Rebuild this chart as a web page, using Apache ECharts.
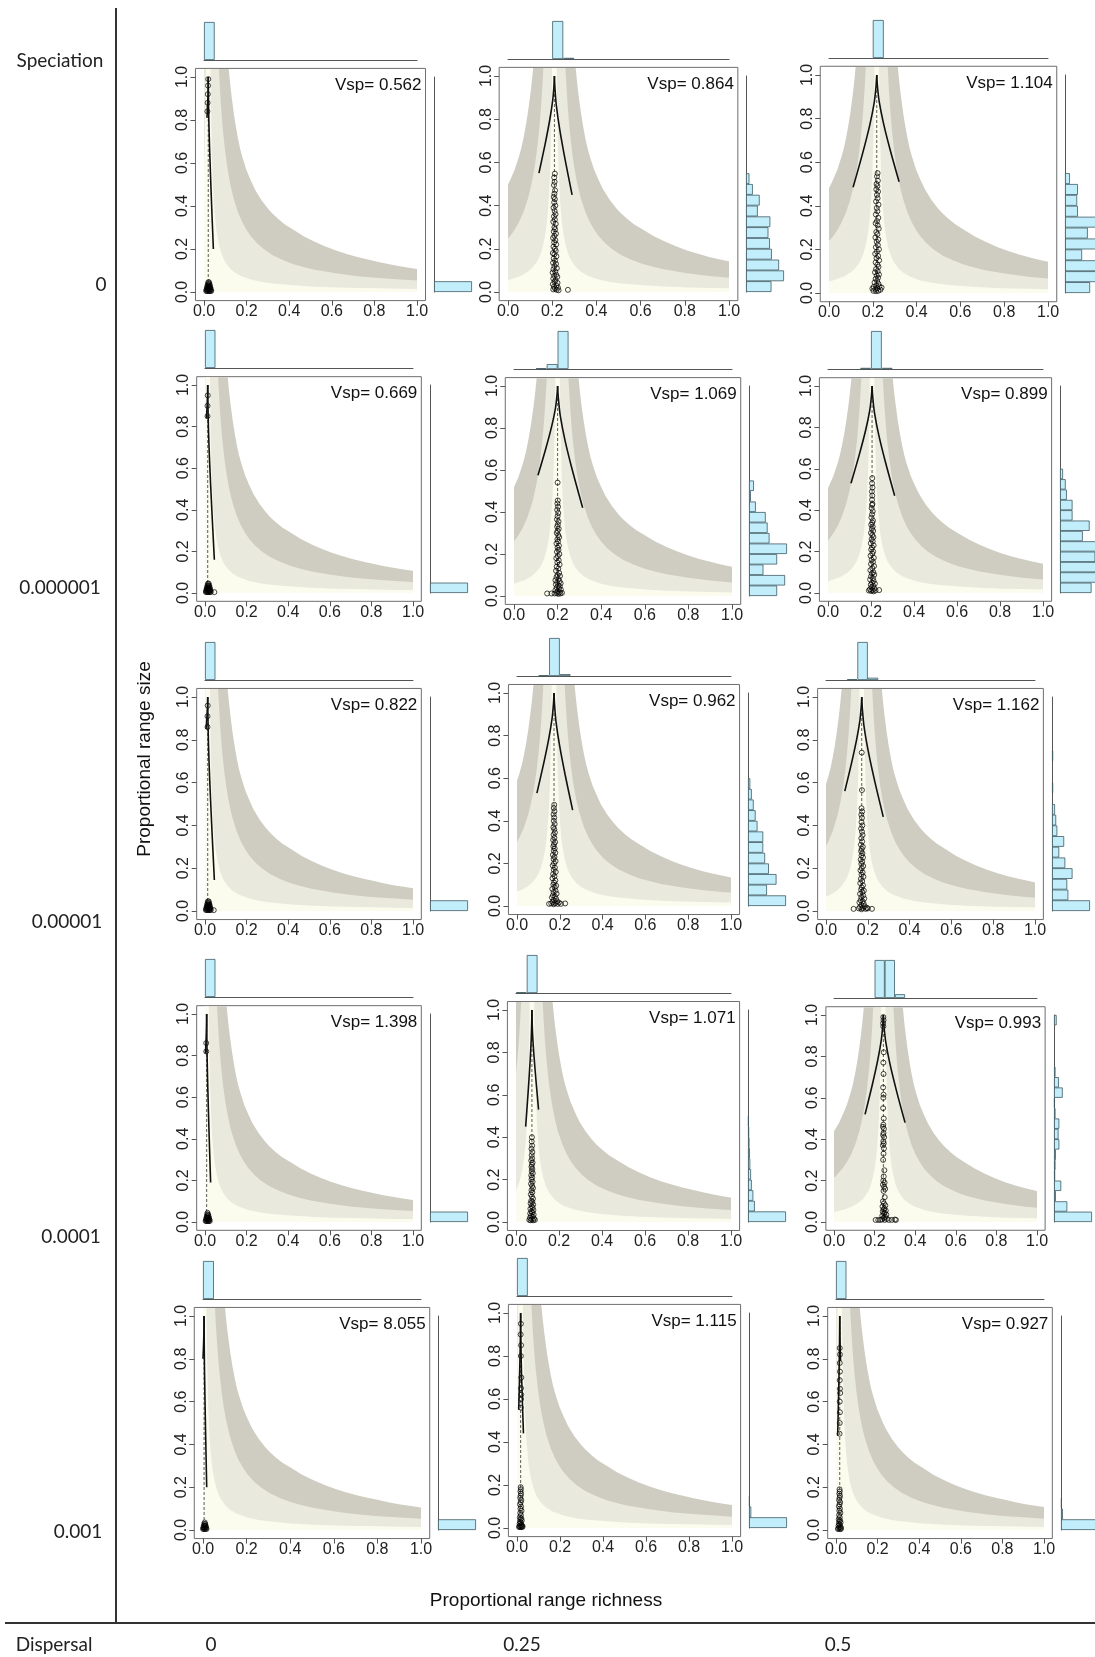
<!DOCTYPE html>
<html>
<head>
<meta charset="utf-8">
<script src="https://cdn.jsdelivr.net/npm/echarts@6/dist/echarts.min.js"></script>
<style>
  html, body { margin: 0; padding: 0; background: #ffffff; }
  #chart { width: 1095px; height: 1657px; }
</style>
</head>
<body>
<div id="chart"></div>
<script>
// ---- Factor levels ------------------------------------------------------
const dispersalLevels = ['0', '0.25', '0.5'];
const speciationLevels = ['0', '0.000001', '0.00001', '0.0001', '0.001'];
const axisTicks = [0, 0.2, 0.4, 0.6, 0.8, 1.0];

// ---- Per-panel values (row-major: speciation rows x dispersal columns) ---
const vsp = [0.562, 0.864, 1.104, 0.669, 1.069, 0.899, 0.822, 0.962, 1.162, 1.398, 1.071, 0.993, 8.055, 1.115, 0.927];
const meanRichness = [0.02, 0.21, 0.218, 0.013, 0.2, 0.205, 0.013, 0.173, 0.171, 0.008, 0.074, 0.243, 0.005, 0.017, 0.018];

// Envelope boundaries: [distance from mean richness, proportional range size]
const envelopeOuter = [[0.08,1.25],[0.085,1.176],[0.09,1.111],[0.095,1.053],[0.1,1.0],[0.105,0.952],[0.11,0.909],[0.12,0.833],[0.13,0.769],[0.14,0.714],[0.15,0.667],[0.16,0.63],[0.18,0.567],[0.2,0.52],[0.22,0.477],[0.25,0.428],[0.28,0.389],[0.3,0.367],[0.33,0.339],[0.36,0.315],[0.4,0.29],[0.45,0.259],[0.5,0.234],[0.55,0.212],[0.6,0.193],[0.65,0.177],[0.7,0.163],[0.75,0.151],[0.8,0.14],[0.85,0.129],[0.9,0.12],[0.95,0.112],[1.0,0.105]];
const envelopeMiddle = [[0.04,1.3],[0.045,1.156],[0.05,1.04],[0.055,0.945],[0.06,0.867],[0.065,0.8],[0.07,0.743],[0.08,0.65],[0.09,0.578],[0.1,0.52],[0.11,0.473],[0.12,0.433],[0.14,0.371],[0.16,0.325],[0.18,0.289],[0.2,0.26],[0.23,0.226],[0.26,0.2],[0.3,0.173],[0.35,0.149],[0.4,0.13],[0.45,0.116],[0.5,0.104],[0.6,0.087],[0.7,0.074],[0.8,0.065],[0.9,0.058],[1.0,0.052]];
const envelopeInner = [[0.007,1.57],[0.008,1.375],[0.009,1.22],[0.01,1.1],[0.011,1.0],[0.012,0.917],[0.014,0.786],[0.016,0.688],[0.018,0.611],[0.02,0.55],[0.023,0.478],[0.026,0.423],[0.03,0.367],[0.035,0.314],[0.04,0.275],[0.05,0.22],[0.06,0.184],[0.07,0.158],[0.08,0.139],[0.1,0.112],[0.12,0.094],[0.15,0.076],[0.2,0.058],[0.25,0.047],[0.3,0.04],[0.4,0.031],[0.5,0.025],[0.6,0.021],[0.7,0.019],[0.8,0.017],[0.9,0.015],[1.0,0.014]];

// Expected curve, two branches from the peak at range size 1
const curveLeft = [
  [[0.014,0.81],[0.016,0.86],[0.019,0.92],[0.0198,0.97],[0.02,1.0]],
  [[0.14,0.55],[0.168,0.685],[0.189,0.7975],[0.2023,0.8875],[0.208,0.955],[0.21,1.0]],
  [[0.11,0.485],[0.1532,0.6395],[0.1856,0.768],[0.2061,0.871],[0.2148,0.948],[0.218,1.0]],
  [[0.007,0.84],[0.009,0.88],[0.011,0.92],[0.0127,0.97],[0.013,1.0]],
  [[0.11,0.575],[0.146,0.7025],[0.173,0.809],[0.1901,0.894],[0.1973,0.9575],[0.2,1.0]],
  [[0.107,0.53],[0.1462,0.671],[0.1756,0.7885],[0.1942,0.8825],[0.2021,0.953],[0.205,1.0]],
  [[0.005,0.85],[0.008,0.89],[0.0105,0.93],[0.0125,0.97],[0.013,1.0]],
  [[0.093,0.53],[0.125,0.671],[0.149,0.7885],[0.1642,0.8825],[0.1706,0.953],[0.173,1.0]],
  [[0.09,0.56],[0.1224,0.692],[0.1467,0.802],[0.1621,0.89],[0.1686,0.956],[0.171,1.0]],
  [[0.002,0.81],[0.004,0.85],[0.006,0.9],[0.0077,0.96],[0.008,1.0]],
  [[0.045,0.45],[0.0566,0.615],[0.0653,0.7525],[0.0708,0.8625],[0.0731,0.945],[0.074,1.0]],
  [[0.153,0.52],[0.189,0.664],[0.216,0.784],[0.2331,0.88],[0.2403,0.952],[0.243,1.0]],
  [[0.0,0.8],[0.003,0.88],[0.0045,0.95],[0.005,1.0]],
  [[0.008,0.55],[0.013,0.75],[0.016,0.9],[0.017,1.0]],
  [[0.008,0.44],[0.014,0.7],[0.017,0.88],[0.018,1.0]]
];
const curveRight = [
  [[0.02,1.0],[0.0207,0.92],[0.0226,0.8],[0.0272,0.64],[0.0344,0.44],[0.044,0.2]],
  [[0.21,1.0],[0.2124,0.945],[0.2188,0.8625],[0.234,0.7525],[0.258,0.615],[0.29,0.45]],
  [[0.218,1.0],[0.2211,0.951],[0.2292,0.8775],[0.2486,0.7795],[0.2792,0.657],[0.32,0.51]],
  [[0.013,1.0],[0.014,0.916],[0.0165,0.79],[0.0226,0.622],[0.0322,0.412],[0.045,0.16]],
  [[0.2,1.0],[0.2035,0.942],[0.2127,0.855],[0.2345,0.739],[0.269,0.594],[0.315,0.42]],
  [[0.205,1.0],[0.2082,0.947],[0.2166,0.8675],[0.2365,0.7615],[0.268,0.629],[0.31,0.47]],
  [[0.013,1.0],[0.014,0.9145],[0.0165,0.786],[0.0226,0.615],[0.0322,0.4015],[0.045,0.145]],
  [[0.173,1.0],[0.1756,0.945],[0.1826,0.8625],[0.1991,0.7525],[0.2252,0.615],[0.26,0.45]],
  [[0.171,1.0],[0.1741,0.944],[0.1823,0.86],[0.2019,0.748],[0.2328,0.608],[0.274,0.44]],
  [[0.008,1.0],[0.0086,0.919],[0.0101,0.7975],[0.0137,0.6355],[0.0194,0.433],[0.027,0.19]],
  [[0.074,1.0],[0.0749,0.953],[0.0774,0.8825],[0.0833,0.7885],[0.0926,0.671],[0.105,0.53]],
  [[0.243,1.0],[0.2462,0.948],[0.2548,0.87],[0.2751,0.766],[0.3072,0.636],[0.35,0.48]],
  [[0.005,1.0],[0.0054,0.92],[0.0063,0.8],[0.0086,0.64],[0.0122,0.44],[0.017,0.2]],
  [[0.017,1.0],[0.0175,0.9],[0.021,0.72],[0.03,0.44]],
  [[0.018,1.0],[0.019,0.9],[0.022,0.79]]
];

// Histograms of richness and of range size (bins of 0.05 from 0), relative counts
const richnessCounts = [
  [1], [0,0,0,0,1,0.03], [0,0,0,0,1],
  [1], [0,0,0.02,0.13,1], [0,0,0,0.03,1,0.03],
  [1], [0,0,0.02,1,0.05], [0,0,0.02,1,0.06],
  [1], [0.02,1], [0,0,0,0,1,1,0.1],
  [1], [1], [1]
];
const rangeSizeCounts = [
  [1], [0.67,1.0,0.87,0.68,0.63,0.59,0.64,0.31,0.36,0.18,0.09], [0.66,0.9,0.95,0.45,1.0,0.6,0.85,0.34,0.32,0.34,0.13],
  [1], [0.74,0.95,0.38,0.74,1.0,0.54,0.49,0.44,0.18,0.05,0.13], [0.83,0.95,1.0,0.93,0.98,0.6,0.78,0.33,0.33,0.18,0.15,0.08],
  [1], [1.0,0.5,0.75,0.55,0.45,0.4,0.4,0.25,0.2,0.15,0.1,0.06], [1.0,0.43,0.4,0.54,0.35,0.19,0.32,0.14,0.11,0.08,0,0.03,0,0,0.03],
  [1], [1.0,0.18,0.14,0.1,0.08,0.06,0.05,0.04,0.03,0.02], [1.0,0.35,0.05,0.19,0.03,0.04,0.05,0.14,0.12,0.14,0.04,0.02,0.23,0.13,0.04,0,0,0,0,0.07],
  [1], [1.0,0.06,0.02], [1.0,0.05,0.02]
];

// Species: [proportional range richness, proportional range size]
const pointsR1C1 = [[0.016,0.84],[0.017,0.88],[0.018,0.92],[0.019,0.96],[0.02,0.99],[0.01,0.005],[0.014,0.005],[0.018,0.005],[0.022,0.005],[0.026,0.005],[0.03,0.005],[0.034,0.005],[0.012,0.012],[0.016,0.012],[0.02,0.012],[0.024,0.012],[0.028,0.012],[0.032,0.012],[0.014,0.02],[0.018,0.02],[0.022,0.02],[0.026,0.02],[0.03,0.02],[0.016,0.028],[0.02,0.028],[0.024,0.028],[0.028,0.028],[0.018,0.036],[0.022,0.036],[0.026,0.036],[0.02,0.045],[0.024,0.045]];
const pointsR1C2 = [[0.212,0.548],[0.209,0.53],[0.211,0.51],[0.208,0.495],[0.213,0.47],[0.21,0.455],[0.207,0.44],[0.212,0.43],[0.209,0.415],[0.214,0.4],[0.206,0.39],[0.211,0.375],[0.215,0.36],[0.208,0.35],[0.212,0.335],[0.205,0.325],[0.216,0.315],[0.21,0.3],[0.213,0.29],[0.207,0.28],[0.217,0.27],[0.21,0.26],[0.204,0.25],[0.214,0.24],[0.209,0.23],[0.218,0.22],[0.206,0.21],[0.212,0.2],[0.216,0.19],[0.203,0.18],[0.21,0.175],[0.219,0.165],[0.207,0.155],[0.213,0.145],[0.204,0.135],[0.217,0.13],[0.21,0.12],[0.221,0.11],[0.206,0.105],[0.214,0.095],[0.202,0.09],[0.218,0.08],[0.209,0.075],[0.223,0.07],[0.205,0.062],[0.215,0.055],[0.211,0.048],[0.224,0.042],[0.203,0.036],[0.219,0.03],[0.208,0.025],[0.226,0.02],[0.213,0.016],[0.205,0.012],[0.22,0.01],[0.229,0.008],[0.271,0.01]];
const pointsR1C3 = [[0.222,0.55],[0.219,0.535],[0.223,0.515],[0.217,0.5],[0.221,0.49],[0.216,0.475],[0.224,0.465],[0.219,0.45],[0.222,0.435],[0.215,0.42],[0.226,0.405],[0.218,0.39],[0.221,0.375],[0.214,0.36],[0.225,0.345],[0.219,0.33],[0.213,0.32],[0.222,0.31],[0.227,0.295],[0.216,0.28],[0.221,0.27],[0.212,0.255],[0.225,0.245],[0.218,0.235],[0.223,0.22],[0.214,0.21],[0.228,0.2],[0.219,0.19],[0.211,0.18],[0.224,0.17],[0.217,0.16],[0.229,0.15],[0.213,0.14],[0.221,0.13],[0.226,0.12],[0.215,0.11],[0.222,0.1],[0.21,0.095],[0.228,0.085],[0.218,0.08],[0.224,0.07],[0.213,0.065],[0.22,0.055],[0.208,0.048],[0.226,0.042],[0.216,0.035],[0.23,0.03],[0.204,0.028],[0.221,0.022],[0.212,0.018],[0.235,0.015],[0.198,0.02],[0.225,0.01],[0.215,0.008],[0.24,0.025],[0.203,0.01]];
const pointsR2C1 = [[0.012,0.85],[0.012,0.9],[0.013,0.95],[0.004,0.005],[0.008,0.005],[0.012,0.005],[0.016,0.005],[0.02,0.005],[0.024,0.005],[0.028,0.005],[0.006,0.012],[0.01,0.012],[0.014,0.012],[0.018,0.012],[0.022,0.012],[0.026,0.012],[0.008,0.02],[0.012,0.02],[0.016,0.02],[0.02,0.02],[0.024,0.02],[0.01,0.028],[0.014,0.028],[0.018,0.028],[0.022,0.028],[0.012,0.036],[0.016,0.036],[0.02,0.036],[0.014,0.045],[0.018,0.045],[0.045,0.004]];
const pointsR2C2 = [[0.2,0.54],[0.201,0.455],[0.199,0.44],[0.202,0.425],[0.198,0.41],[0.203,0.395],[0.2,0.38],[0.197,0.365],[0.204,0.355],[0.201,0.34],[0.198,0.33],[0.205,0.32],[0.2,0.31],[0.196,0.3],[0.203,0.29],[0.207,0.28],[0.199,0.27],[0.202,0.26],[0.195,0.25],[0.206,0.24],[0.2,0.23],[0.204,0.22],[0.197,0.21],[0.208,0.2],[0.201,0.19],[0.194,0.18],[0.205,0.17],[0.199,0.16],[0.209,0.15],[0.196,0.14],[0.203,0.13],[0.193,0.12],[0.207,0.11],[0.2,0.1],[0.211,0.095],[0.195,0.09],[0.204,0.08],[0.19,0.075],[0.209,0.07],[0.198,0.065],[0.214,0.06],[0.192,0.055],[0.203,0.05],[0.21,0.045],[0.196,0.04],[0.206,0.035],[0.215,0.03],[0.19,0.028],[0.2,0.022],[0.209,0.018],[0.196,0.014],[0.213,0.012],[0.203,0.01],[0.186,0.012],[0.172,0.012],[0.152,0.012],[0.22,0.015]];
const pointsR2C3 = [[0.206,0.555],[0.205,0.53],[0.207,0.51],[0.204,0.49],[0.206,0.47],[0.205,0.45],[0.207,0.43],[0.205,0.425],[0.203,0.41],[0.208,0.395],[0.205,0.38],[0.202,0.365],[0.209,0.35],[0.206,0.34],[0.201,0.33],[0.208,0.32],[0.204,0.31],[0.21,0.3],[0.2,0.29],[0.206,0.28],[0.211,0.27],[0.203,0.26],[0.208,0.25],[0.199,0.24],[0.212,0.23],[0.205,0.22],[0.201,0.21],[0.21,0.2],[0.206,0.19],[0.198,0.18],[0.213,0.17],[0.203,0.16],[0.209,0.15],[0.2,0.14],[0.214,0.13],[0.206,0.12],[0.197,0.11],[0.211,0.1],[0.204,0.095],[0.215,0.088],[0.2,0.08],[0.209,0.072],[0.196,0.065],[0.212,0.058],[0.205,0.05],[0.218,0.045],[0.199,0.04],[0.21,0.034],[0.203,0.028],[0.216,0.022],[0.195,0.018],[0.207,0.014],[0.221,0.012],[0.2,0.01],[0.19,0.012],[0.238,0.014],[0.212,0.008]];
const pointsR3C1 = [[0.012,0.86],[0.012,0.91],[0.013,0.96],[0.004,0.005],[0.008,0.005],[0.012,0.005],[0.016,0.005],[0.02,0.005],[0.024,0.005],[0.028,0.005],[0.006,0.012],[0.01,0.012],[0.014,0.012],[0.018,0.012],[0.022,0.012],[0.026,0.012],[0.008,0.02],[0.012,0.02],[0.016,0.02],[0.02,0.02],[0.024,0.02],[0.01,0.028],[0.014,0.028],[0.018,0.028],[0.022,0.028],[0.012,0.036],[0.016,0.036],[0.02,0.036],[0.014,0.045],[0.018,0.045],[0.042,0.004]];
const pointsR3C2 = [[0.174,0.475],[0.172,0.46],[0.175,0.445],[0.171,0.43],[0.174,0.415],[0.172,0.4],[0.176,0.385],[0.17,0.37],[0.174,0.36],[0.177,0.345],[0.171,0.335],[0.175,0.32],[0.169,0.31],[0.178,0.3],[0.173,0.29],[0.17,0.28],[0.176,0.27],[0.172,0.26],[0.179,0.25],[0.168,0.24],[0.175,0.23],[0.171,0.22],[0.18,0.21],[0.173,0.2],[0.167,0.19],[0.177,0.18],[0.172,0.17],[0.181,0.16],[0.169,0.15],[0.175,0.14],[0.166,0.13],[0.179,0.12],[0.173,0.11],[0.17,0.1],[0.183,0.095],[0.176,0.088],[0.165,0.08],[0.18,0.072],[0.171,0.065],[0.185,0.058],[0.168,0.05],[0.177,0.045],[0.163,0.04],[0.182,0.034],[0.172,0.028],[0.187,0.022],[0.166,0.018],[0.178,0.014],[0.16,0.012],[0.19,0.01],[0.172,0.008],[0.15,0.01],[0.205,0.01],[0.225,0.012],[0.196,0.016]];
const pointsR3C3 = [[0.171,0.74],[0.172,0.565],[0.17,0.48],[0.173,0.465],[0.169,0.45],[0.172,0.435],[0.17,0.415],[0.174,0.4],[0.168,0.385],[0.172,0.37],[0.175,0.355],[0.169,0.34],[0.173,0.325],[0.167,0.31],[0.176,0.3],[0.171,0.29],[0.168,0.28],[0.174,0.27],[0.17,0.26],[0.177,0.25],[0.166,0.24],[0.173,0.23],[0.169,0.22],[0.178,0.21],[0.171,0.2],[0.165,0.19],[0.175,0.18],[0.17,0.17],[0.179,0.16],[0.167,0.15],[0.173,0.14],[0.164,0.13],[0.177,0.12],[0.171,0.11],[0.168,0.1],[0.181,0.095],[0.174,0.088],[0.163,0.08],[0.178,0.072],[0.169,0.065],[0.183,0.058],[0.166,0.05],[0.175,0.045],[0.16,0.04],[0.18,0.034],[0.17,0.028],[0.185,0.022],[0.163,0.018],[0.176,0.014],[0.157,0.012],[0.19,0.01],[0.17,0.008],[0.132,0.01],[0.2,0.012],[0.22,0.01],[0.195,0.015]];
const pointsR4C1 = [[0.006,0.82],[0.006,0.86],[0.003,0.005],[0.007,0.005],[0.011,0.005],[0.015,0.005],[0.019,0.005],[0.023,0.005],[0.005,0.012],[0.009,0.012],[0.013,0.012],[0.017,0.012],[0.021,0.012],[0.007,0.02],[0.011,0.02],[0.015,0.02],[0.019,0.02],[0.009,0.028],[0.013,0.028],[0.017,0.028],[0.011,0.036],[0.015,0.036],[0.012,0.044]];
const pointsR4C2 = [[0.074,0.4],[0.073,0.38],[0.075,0.36],[0.072,0.345],[0.076,0.33],[0.073,0.315],[0.075,0.3],[0.071,0.29],[0.077,0.28],[0.074,0.27],[0.072,0.26],[0.076,0.25],[0.073,0.24],[0.078,0.23],[0.071,0.22],[0.075,0.21],[0.072,0.2],[0.077,0.19],[0.07,0.18],[0.075,0.17],[0.079,0.16],[0.072,0.15],[0.076,0.14],[0.069,0.13],[0.074,0.12],[0.079,0.11],[0.071,0.1],[0.076,0.095],[0.068,0.088],[0.08,0.082],[0.073,0.075],[0.077,0.068],[0.067,0.062],[0.081,0.056],[0.072,0.05],[0.076,0.045],[0.066,0.04],[0.082,0.035],[0.07,0.03],[0.078,0.025],[0.065,0.02],[0.084,0.016],[0.073,0.012],[0.068,0.008],[0.08,0.008],[0.062,0.01],[0.088,0.01]];
const pointsR4C3 = [[0.243,0.99],[0.244,0.975],[0.242,0.96],[0.243,0.945],[0.245,0.82],[0.243,0.77],[0.244,0.715],[0.242,0.65],[0.244,0.615],[0.243,0.6],[0.242,0.55],[0.245,0.5],[0.243,0.47],[0.241,0.46],[0.246,0.45],[0.244,0.43],[0.242,0.42],[0.247,0.41],[0.243,0.39],[0.245,0.38],[0.241,0.37],[0.246,0.355],[0.244,0.33],[0.242,0.3],[0.248,0.25],[0.245,0.22],[0.243,0.2],[0.249,0.19],[0.241,0.18],[0.247,0.17],[0.252,0.16],[0.244,0.15],[0.25,0.12],[0.241,0.1],[0.246,0.09],[0.253,0.08],[0.239,0.075],[0.248,0.065],[0.244,0.06],[0.255,0.055],[0.24,0.05],[0.25,0.045],[0.246,0.04],[0.258,0.035],[0.238,0.03],[0.252,0.025],[0.245,0.02],[0.26,0.015],[0.236,0.012],[0.25,0.01],[0.205,0.01],[0.218,0.01],[0.228,0.01],[0.27,0.01],[0.285,0.01],[0.3,0.012],[0.305,0.01]];
const pointsR5C1 = [[0.0,0.005],[0.004,0.005],[0.008,0.005],[0.012,0.005],[0.016,0.005],[0.002,0.012],[0.006,0.012],[0.01,0.012],[0.014,0.012],[0.004,0.02],[0.008,0.02],[0.012,0.02],[0.006,0.028],[0.01,0.028],[0.008,0.035]];
const pointsR5C2 = [[0.018,0.95],[0.017,0.9],[0.019,0.85],[0.018,0.8],[0.02,0.7],[0.019,0.65],[0.02,0.62],[0.019,0.6],[0.018,0.56],[0.017,0.19],[0.018,0.18],[0.016,0.17],[0.019,0.16],[0.017,0.15],[0.015,0.14],[0.02,0.13],[0.017,0.12],[0.014,0.11],[0.019,0.1],[0.016,0.09],[0.021,0.08],[0.015,0.07],[0.018,0.06],[0.013,0.05],[0.02,0.045],[0.016,0.04],[0.022,0.035],[0.014,0.03],[0.018,0.025],[0.012,0.02],[0.021,0.015],[0.016,0.012],[0.024,0.01],[0.011,0.008],[0.019,0.006],[0.014,0.005],[0.01,0.004],[0.022,0.004],[0.026,0.006]];
const pointsR5C3 = [[0.018,0.85],[0.019,0.82],[0.018,0.78],[0.019,0.74],[0.018,0.7],[0.019,0.66],[0.02,0.64],[0.018,0.6],[0.019,0.55],[0.018,0.5],[0.017,0.45],[0.017,0.19],[0.018,0.18],[0.016,0.17],[0.019,0.16],[0.017,0.15],[0.015,0.14],[0.02,0.13],[0.017,0.12],[0.014,0.11],[0.019,0.1],[0.016,0.09],[0.021,0.08],[0.015,0.07],[0.018,0.06],[0.013,0.05],[0.02,0.045],[0.016,0.04],[0.022,0.035],[0.014,0.03],[0.018,0.025],[0.012,0.02],[0.021,0.015],[0.016,0.012],[0.024,0.01],[0.011,0.008],[0.019,0.006],[0.01,0.004],[0.023,0.004]];
const panelPoints = [pointsR1C1, pointsR1C2, pointsR1C3, pointsR2C1, pointsR2C2, pointsR2C3, pointsR3C1, pointsR3C2, pointsR3C3, pointsR4C1, pointsR4C2, pointsR4C3, pointsR5C1, pointsR5C2, pointsR5C3];

// ---- Layout: plotting region of each panel in px [left(0), right(1), top(1), bottom(0)] ----
const panelFrames = [
  [204, 417, 77, 292], [508, 729, 76, 292], [829, 1048, 75, 293],
  [205, 413, 385, 593], [514, 732, 386, 596], [828, 1043, 386, 593],
  [205, 413, 697, 911], [517, 731, 693, 906], [826, 1035, 697, 911],
  [205, 413, 1014, 1222], [516, 731, 1010, 1222], [834, 1037, 1015, 1222],
  [203, 421, 1316, 1530], [517, 732, 1313, 1528], [836, 1044, 1316, 1530]
];
const HIST_GAP = 17, HIST_DEPTH = 38;

const COL_OUTER = '#cfcdc2', COL_MIDDLE = '#eae9de', COL_INNER = '#fcfcee';
const BAR_FILL = '#c2eefb', BAR_EDGE = '#3f5a63';
const AXIS_FONT = '"Liberation Sans", Arial, sans-serif';
const LABEL_FONT = 'Lato, "Open Sans", sans-serif';

const binNames = Array.from({ length: 20 }, (_, i) => String(i));
const toBins = arr => binNames.map((_, i) => (arr[i] > 0 ? arr[i] : null));

// mirror an envelope profile around the panel's mean richness
function envelopeLine(profile, centre) {
  const left = profile.slice().reverse().map(([d, y]) => [centre - d, y]);
  const right = profile.map(([d, y]) => [centre + d, y]);
  return left.concat(right);
}

const grid = [], xAxis = [], yAxis = [], series = [], graphic = [];
const hidden = { show: false };

panelFrames.forEach((f, p) => {
  const [xl, xr, yt, yb] = f;
  const W = xr - xl, H = yb - yt;
  const g = grid.length;
  const boxLeft = xl - 0.04 * W, boxTop = yt - 0.04 * H;

  // frame with axes
  grid.push({ left: boxLeft, top: boxTop, width: 1.08 * W, height: 1.08 * H, show: true,
    borderColor: '#6e6e6e', borderWidth: 1, backgroundColor: '#ffffff', containLabel: false, outerBoundsMode: 'none' });
  // envelope region (clipped to richness 0..1)
  grid.push({ left: xl, top: boxTop + 0.6, width: W, height: yb - boxTop - 0.6, containLabel: false, outerBoundsMode: 'none' });
  // richness histogram above
  grid.push({ left: xl, top: yt - HIST_GAP - HIST_DEPTH, width: W, height: HIST_DEPTH, containLabel: false, outerBoundsMode: 'none' });
  // range-size histogram to the right
  grid.push({ left: xr + HIST_GAP, top: yt, width: HIST_DEPTH, height: H, containLabel: false, outerBoundsMode: 'none' });

  const tickStyle = { show: true, inside: false, length: 5, customValues: axisTicks, lineStyle: { color: '#555', width: 1 } };
  xAxis.push({ gridIndex: g, type: 'value', min: -0.04, max: 1.04, splitLine: hidden,
    axisLine: { show: false, onZero: false }, axisTick: tickStyle,
    axisLabel: { customValues: axisTicks, formatter: v => v.toFixed(1), margin: 3, fontSize: 16, color: '#222', fontFamily: AXIS_FONT } });
  yAxis.push({ gridIndex: g, type: 'value', min: -0.04, max: 1.04, splitLine: hidden,
    axisLine: { show: false, onZero: false }, axisTick: tickStyle,
    axisLabel: { customValues: axisTicks, formatter: v => v.toFixed(1), rotate: 90, margin: 5, fontSize: 16, color: '#222', fontFamily: AXIS_FONT } });

  xAxis.push({ gridIndex: g + 1, type: 'value', min: 0, max: 1, show: false });
  yAxis.push({ gridIndex: g + 1, type: 'value', min: 0, max: 1.04, show: false });

  xAxis.push({ gridIndex: g + 2, type: 'category', data: binNames, boundaryGap: true,
    axisLine: { show: true, lineStyle: { color: '#555', width: 1 } }, axisTick: hidden, axisLabel: hidden, splitLine: hidden });
  yAxis.push({ gridIndex: g + 2, type: 'value', min: 0, max: 1, show: false });

  xAxis.push({ gridIndex: g + 3, type: 'value', min: 0, max: 1, show: false });
  yAxis.push({ gridIndex: g + 3, type: 'category', data: binNames, boundaryGap: true,
    axisLine: { show: true, lineStyle: { color: '#555', width: 1 } }, axisTick: hidden, axisLabel: hidden, splitLine: hidden });

  const centre = meanRichness[p];
  [[envelopeOuter, COL_OUTER], [envelopeMiddle, COL_MIDDLE], [envelopeInner, COL_INNER]].forEach(([prof, col]) => {
    series.push({ type: 'line', z: 1, xAxisIndex: g + 1, yAxisIndex: g + 1, data: envelopeLine(prof, centre),
      symbol: 'none', smooth: false, clip: true, silent: true,
      lineStyle: { width: 0 }, areaStyle: { color: col, opacity: 1, origin: 'start' } });
  });

  // mean richness
  series.push({ type: 'line', z: 3, xAxisIndex: g, yAxisIndex: g, data: [[centre, 0], [centre, 1]], symbol: 'none', silent: true,
    lineStyle: { color: '#333', width: 0.8, type: [3, 2] } });
  // species
  series.push({ type: 'scatter', z: 4, xAxisIndex: g, yAxisIndex: g, data: panelPoints[p], symbol: 'circle', symbolSize: 5, silent: true,
    itemStyle: { color: 'rgba(255,255,255,0)', borderColor: '#000', borderWidth: 0.9 } });
  // expected curve
  [curveLeft[p], curveRight[p]].forEach(branch => {
    series.push({ type: 'line', z: 5, xAxisIndex: g, yAxisIndex: g, data: branch, symbol: 'none', smooth: 0.3, silent: true,
      lineStyle: { color: '#111', width: 1.6 } });
  });

  // histograms
  series.push({ type: 'bar', xAxisIndex: g + 2, yAxisIndex: g + 2, data: toBins(richnessCounts[p]), barCategoryGap: '0%', barGap: '0%', silent: true,
    itemStyle: { color: BAR_FILL, borderColor: BAR_EDGE, borderWidth: 0.8 } });
  series.push({ type: 'bar', xAxisIndex: g + 3, yAxisIndex: g + 3, data: toBins(rangeSizeCounts[p]), barCategoryGap: '0%', barGap: '0%', silent: true,
    itemStyle: { color: BAR_FILL, borderColor: BAR_EDGE, borderWidth: 0.8 } });

  graphic.push({ type: 'text', z: 50, x: xr + 0.04 * W - 4, y: boxTop + 17,
    style: { text: 'Vsp= ' + vsp[p].toFixed(3), font: '17px ' + AXIS_FONT, fill: '#111', align: 'right', verticalAlign: 'middle', textAlign: 'right', textVerticalAlign: 'middle' } });
});

// frame lines and row / column annotations
graphic.push({ type: 'line', z: 50, shape: { x1: 116, y1: 8, x2: 116, y2: 1623 }, style: { stroke: '#333', lineWidth: 2 } });
graphic.push({ type: 'line', z: 50, shape: { x1: 5, y1: 1623, x2: 1095, y2: 1623 }, style: { stroke: '#333', lineWidth: 2 } });

const rowLabelX = [60, 101, 60, 67, 71, 78];
const rowLabelY = [61, 285, 588, 922, 1237, 1532];
['Speciation'].concat(speciationLevels).forEach((t, i) => {
  graphic.push({ type: 'text', z: 50, x: rowLabelX[i], y: rowLabelY[i],
    style: { text: t, font: '19px ' + LABEL_FONT, fill: '#222', align: 'center', verticalAlign: 'middle', textAlign: 'center', textVerticalAlign: 'middle' } });
});
const colLabelX = [54, 211, 522, 838];
['Dispersal'].concat(dispersalLevels).forEach((t, i) => {
  graphic.push({ type: 'text', z: 50, x: colLabelX[i], y: 1645,
    style: { text: t, font: '19px ' + LABEL_FONT, fill: '#222', align: 'center', verticalAlign: 'middle', textAlign: 'center', textVerticalAlign: 'middle' } });
});
graphic.push({ type: 'text', z: 50, x: 145, y: 759, rotation: Math.PI / 2,
  style: { text: 'Proportional range size', font: '19px ' + AXIS_FONT, fill: '#111', align: 'center', verticalAlign: 'middle', textAlign: 'center', textVerticalAlign: 'middle' } });
graphic.push({ type: 'text', z: 50, x: 546, y: 1601,
  style: { text: 'Proportional range richness', font: '19px ' + AXIS_FONT, fill: '#111', align: 'center', verticalAlign: 'middle', textAlign: 'center', textVerticalAlign: 'middle' } });

const chart = echarts.init(document.getElementById('chart'), null, { renderer: 'canvas' });
chart.setOption({ animation: false, backgroundColor: '#ffffff', grid, xAxis, yAxis, series, graphic });
</script>
</body>
</html>
